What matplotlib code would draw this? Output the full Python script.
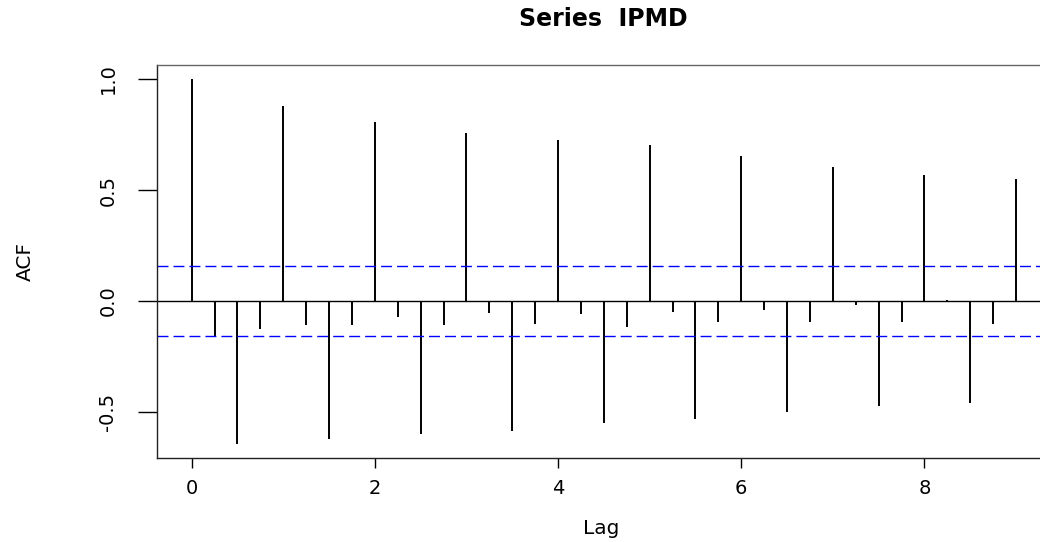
import matplotlib
matplotlib.use("Agg")
import matplotlib.pyplot as plt

# ACF of IPMD, quarterly lags (lag in years)
lags = [0.0, 0.25, 0.5, 0.75, 1.0, 1.25, 1.5, 1.75, 2.0, 2.25, 2.5, 2.75,
        3.0, 3.25, 3.5, 3.75, 4.0, 4.25, 4.5, 4.75, 5.0, 5.25, 5.5, 5.75,
        6.0, 6.25, 6.5, 6.75, 7.0, 7.25, 7.5, 7.75, 8.0, 8.25, 8.5, 8.75, 9.0]
acf_vals = [1.000, -0.161, -0.643, -0.125, 0.880, -0.110, -0.620, -0.110,
            0.805, -0.074, -0.601, -0.110, 0.758, -0.054, -0.586, -0.105,
            0.725, -0.059, -0.548, -0.116, 0.701, -0.050, -0.530, -0.096,
            0.652, -0.041, -0.501, -0.093, 0.602, -0.019, -0.473, -0.096,
            0.566, 0.005, -0.458, -0.105, 0.551]
conf_limit = 0.157

x_ticks = [0, 2, 4, 6, 8]
y_ticks = [-0.5, 0.0, 0.5, 1.0]

plt.rcParams['font.family'] = ['DejaVu Sans']

fig = plt.figure(figsize=(10.4, 5.42), dpi=100)
# axes run past the right edge of the picture, as in the reference
ax = fig.add_axes([0.1513, 0.1555, 0.8574, 0.7245])

ax.vlines(lags, 0, acf_vals, colors='black', linewidth=1.4)
ax.axhline(0, color='black', linewidth=1.0)
for c in (conf_limit, -conf_limit):
    ax.axhline(c, color='#0000ff', linewidth=1.0, linestyle=(0, (7.9, 3.6)))

ax.set_xlim(-0.375, 9.36)
ax.set_ylim(-0.706, 1.063)
ax.set_xticks(x_ticks)
ax.set_yticks(y_ticks)
ax.set_yticklabels([f"{v:.1f}" for v in y_ticks], rotation=90, va='center')

ax.tick_params(axis='x', length=7.2, width=1.0, pad=8, labelsize=14)
ax.tick_params(axis='y', length=13.7, width=1.0, pad=15, labelsize=14)

for s in ax.spines.values():
    s.set_color('#222222')
    s.set_linewidth(1.0)
ax.spines['top'].set_color('#666666')

ax.set_xlabel('Lag', fontsize=14.5, va='center')
ax.xaxis.set_label_coords(0.498, -0.18)
ax.set_ylabel('ACF', fontsize=14.5, va='center')
ax.yaxis.set_label_coords(-0.148, 0.5)

ax.set_title('Series  IPMD', fontsize=17, fontweight='bold', y=1.118, pad=0, va='center')

fig.savefig('out.png', dpi=100)
